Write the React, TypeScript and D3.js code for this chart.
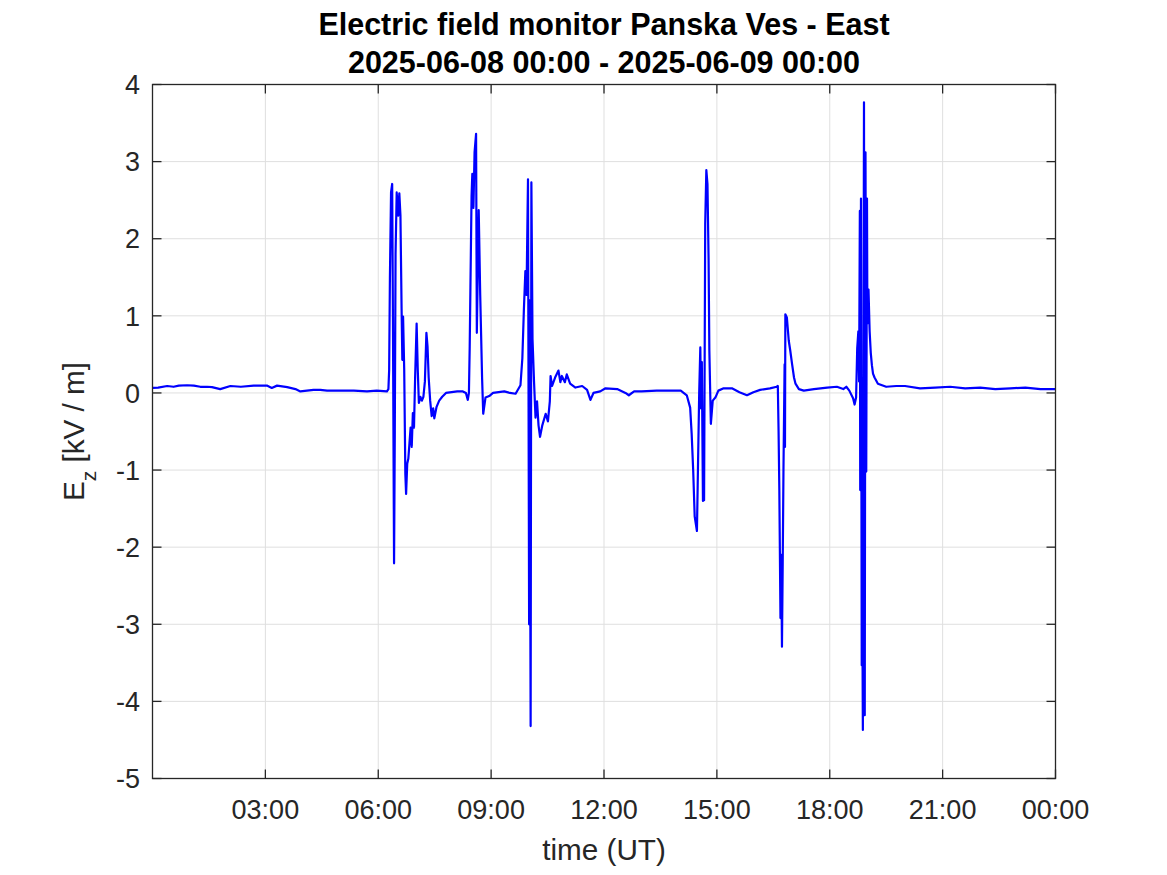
import React from "react";
import * as d3 from "d3";

// time in hours since 2025-06-08 00:00 UT
const timeHours: number[] = [
  0.0, 0.15, 0.39, 0.56, 0.7, 0.92, 1.1, 1.27, 1.45, 1.58, 1.8, 2.07, 2.35, 2.69, 3.04, 3.17, 3.31, 3.58, 3.8, 3.93,
  4.28, 4.46, 4.64, 5.0, 5.35, 5.7, 5.96, 6.23, 6.27,
  6.29, 6.31, 6.34, 6.37, 6.39, 6.42, 6.44, 6.46, 6.49, 6.53, 6.56, 6.59, 6.62, 6.64, 6.66, 6.69, 6.72, 6.74, 6.77,
  6.8, 6.83, 6.86, 6.89, 6.92, 6.95, 6.98, 7.02, 7.05, 7.08, 7.12, 7.16, 7.2, 7.24, 7.28, 7.31, 7.34, 7.38, 7.42,
  7.46, 7.49, 7.55, 7.62, 7.7, 7.8, 7.95, 8.1, 8.25, 8.33, 8.38,
  8.41, 8.43, 8.45, 8.48, 8.5, 8.53, 8.56, 8.6, 8.62, 8.67, 8.71, 8.76, 8.79, 8.85, 8.95, 9.05, 9.2, 9.35, 9.5,
  9.65, 9.78, 9.83, 9.87, 9.91, 9.94, 9.98, 10.01, 10.02, 10.05, 10.07, 10.1, 10.14, 10.18, 10.22, 10.26, 10.3,
  10.36, 10.45, 10.51, 10.56, 10.58, 10.62, 10.7, 10.79, 10.84, 10.88, 10.96, 11.01, 11.1, 11.24, 11.42, 11.55,
  11.64, 11.72, 11.9, 12.04, 12.35, 12.57, 12.66, 12.8, 13.0, 13.4, 14.04,
  14.2, 14.29, 14.33, 14.37, 14.41, 14.47, 14.49, 14.53, 14.56, 14.58, 14.6, 14.63, 14.66, 14.69, 14.72, 14.75,
  14.78, 14.8, 14.84, 14.89, 14.96, 15.04, 15.18, 15.4, 15.6, 15.8, 15.97, 16.15, 16.41, 16.59, 16.62,
  16.64, 16.66, 16.69, 16.71, 16.73, 16.75, 16.77, 16.8, 16.81, 16.82, 16.86, 16.91, 16.95, 17.0, 17.05, 17.09,
  17.18, 17.31, 17.58, 17.93, 18.19, 18.36, 18.44, 18.52, 18.62, 18.66, 18.7, 18.73, 18.76, 18.78, 18.8, 18.81,
  18.83, 18.85, 18.86, 18.88, 18.91, 18.93, 18.95, 18.97, 18.99, 19.0, 19.03, 19.06, 19.09, 19.12, 19.15, 19.19,
  19.28, 19.5, 19.77, 20.0, 20.4, 20.8, 21.2, 21.6, 22.0, 22.4, 22.8, 23.2, 23.6, 24.0,
];

// E_z in kV/m
const ezValues: number[] = [
  0.065, 0.07, 0.09, 0.08, 0.095, 0.1, 0.095, 0.08, 0.08, 0.075, 0.05, 0.09, 0.08, 0.095, 0.095, 0.065, 0.095, 0.075,
  0.05, 0.02, 0.04, 0.04, 0.03, 0.03, 0.03, 0.02, 0.03, 0.02, 0.05,
  0.3, 1.5, 2.6, 2.71, 1.0, -2.21, -0.5, 1.8, 2.6, 2.3, 2.59, 2.3, 1.1, 0.43, 0.99, 0.3, -1.05, -1.31, -0.92,
  -0.85, -0.65, -0.45, -0.7, -0.26, -0.45, 0.2, 0.9, 0.3, -0.13, -0.05, -0.1, -0.05, 0.15, 0.78, 0.6, 0.2, -0.1, -0.3,
  -0.2, -0.33, -0.18, -0.1, -0.05, 0.0, 0.01, 0.02, 0.02, 0.0, -0.09,
  0.0, 0.58, 1.37, 2.55, 2.84, 2.4, 3.12, 3.36, 0.78, 2.37, 1.27, 0.19, -0.27, -0.06, -0.04, 0.0, 0.01, 0.02, 0.0,
  -0.01, 0.1, 0.45, 1.07, 1.58, 1.27, 2.77, -3.0, 1.2, -4.32, 2.73, 0.7, 0.15, -0.32, -0.11, -0.42, -0.57,
  -0.42, -0.27, -0.37, -0.11, 0.22, 0.09, 0.2, 0.29, 0.14, 0.22, 0.14, 0.24, 0.12, 0.07, 0.09, 0.04,
  -0.09, 0.0, 0.02, 0.06, 0.05, 0.0, -0.03, 0.02, 0.02, 0.03, 0.03,
  -0.03, -0.19, -0.53, -1.0, -1.6, -1.79, -1.2, 0.0, 0.59, -0.2, 0.4, -1.4, -1.39, 2.19, 2.89, 2.71,
  1.72, 0.55, -0.4, -0.1, -0.06, 0.03, 0.06, 0.06, 0.01, -0.03, 0.01, 0.04, 0.06, 0.08, 0.09,
  -0.5, -1.26, -2.92, -2.1, -3.29, -2.2, -1.0, 0.37, -0.7, 1.02, 0.98, 0.68, 0.55, 0.37, 0.2, 0.12,
  0.05, 0.03, 0.05, 0.07, 0.08, 0.05, 0.08, 0.03, -0.07, -0.15, -0.06, 0.58, 0.8, 0.15, 2.36, -1.26,
  2.52, -3.53, -2.12, -4.37, 3.77, -4.18, 3.12, -1.02, 2.52, 0.9, 1.34, 0.8, 0.52, 0.36, 0.25, 0.2,
  0.12, 0.08, 0.09, 0.09, 0.06, 0.07, 0.08, 0.06, 0.07, 0.05, 0.06, 0.07, 0.05, 0.05,
];

const xTickHours: number[] = [3, 6, 9, 12, 15, 18, 21, 24];
const xTickLabels: string[] = ["03:00", "06:00", "09:00", "12:00", "15:00", "18:00", "21:00", "00:00"];
const yTicks: number[] = [-5, -4, -3, -2, -1, 0, 1, 2, 3, 4];

const titleLines: string[] = ["Electric field monitor Panska Ves - East", "2025-06-08 00:00 - 2025-06-09 00:00"];

export default function App() {
  const W = 1167;
  const H = 875;
  const left = 152.5, right = 1055.5, top = 84.5, bottom = 778.5;
  const x = d3.scaleLinear().domain([0, 24]).range([left, right]);
  const y = d3.scaleLinear().domain([-5, 4]).range([bottom, top]);
  const pts = timeHours.map((t, i) => [t, ezValues[i]] as [number, number]);
  const line = d3.line<[number, number]>().x((d) => x(d[0])).y((d) => y(d[1]));
  const axisColor = "#262626";
  const gridColor = "#dfdfdf";
  const font = "'Liberation Sans', Arial, Helvetica, sans-serif";
  const tl = 9;
  const cx = (left + right) / 2;
  const cy = (top + bottom) / 2;

  return (
    <svg width={W} height={H} style={{ position: "absolute", left: 0, top: 0, background: "#fff" }} fontFamily={font}>
      <rect x={0} y={0} width={W} height={H} fill="#fff" />
      {xTickHours.filter((h) => h < 24).map((h) => (
        <line key={"gx" + h} x1={x(h)} x2={x(h)} y1={top} y2={bottom} stroke={gridColor} strokeWidth={1} />
      ))}
      {yTicks.filter((v) => v > -5 && v < 4).map((v) => (
        <line key={"gy" + v} x1={left} x2={right} y1={y(v)} y2={y(v)} stroke={gridColor} strokeWidth={1} />
      ))}
      <path d={line(pts) || ""} fill="none" stroke="#0000ff" strokeWidth={2.2} strokeLinejoin="round" />
      {xTickHours.map((h) => (
        <g key={"tx" + h}>
          <line x1={x(h)} x2={x(h)} y1={bottom} y2={bottom - tl} stroke={axisColor} strokeWidth={1.3} />
          <line x1={x(h)} x2={x(h)} y1={top} y2={top + tl} stroke={axisColor} strokeWidth={1.3} />
        </g>
      ))}
      {yTicks.map((v) => (
        <g key={"ty" + v}>
          <line x1={left} x2={left + tl} y1={y(v)} y2={y(v)} stroke={axisColor} strokeWidth={1.3} />
          <line x1={right} x2={right - tl} y1={y(v)} y2={y(v)} stroke={axisColor} strokeWidth={1.3} />
        </g>
      ))}
      <rect x={left} y={top} width={right - left} height={bottom - top} fill="none" stroke={axisColor} strokeWidth={1.3} />
      {xTickHours.map((h, i) => (
        <text key={"lx" + h} x={x(h)} y={819} textAnchor="middle" fontSize={27} fill={axisColor}>
          {xTickLabels[i]}
        </text>
      ))}
      {yTicks.map((v) => (
        <text key={"ly" + v} x={140} y={y(v) + 9.7} textAnchor="end" fontSize={27} fill={axisColor}>
          {String(v)}
        </text>
      ))}
      <text x={cx} y={860} textAnchor="middle" fontSize={29.7} fill={axisColor}>
        time (UT)
      </text>
      <text transform={`translate(83.5,${cy}) rotate(-90)`} textAnchor="middle" fontSize={29.7} fill={axisColor}>
        E<tspan fontSize={21} dy={12}>z</tspan>
        <tspan dy={-12}> [kV / m]</tspan>
      </text>
      <text x={cx} y={35} textAnchor="middle" fontSize={30.5} fontWeight="bold" fill="#000">
        {titleLines[0]}
      </text>
      <text x={cx} y={73} textAnchor="middle" fontSize={30.5} fontWeight="bold" fill="#000">
        {titleLines[1]}
      </text>
    </svg>
  );
}
